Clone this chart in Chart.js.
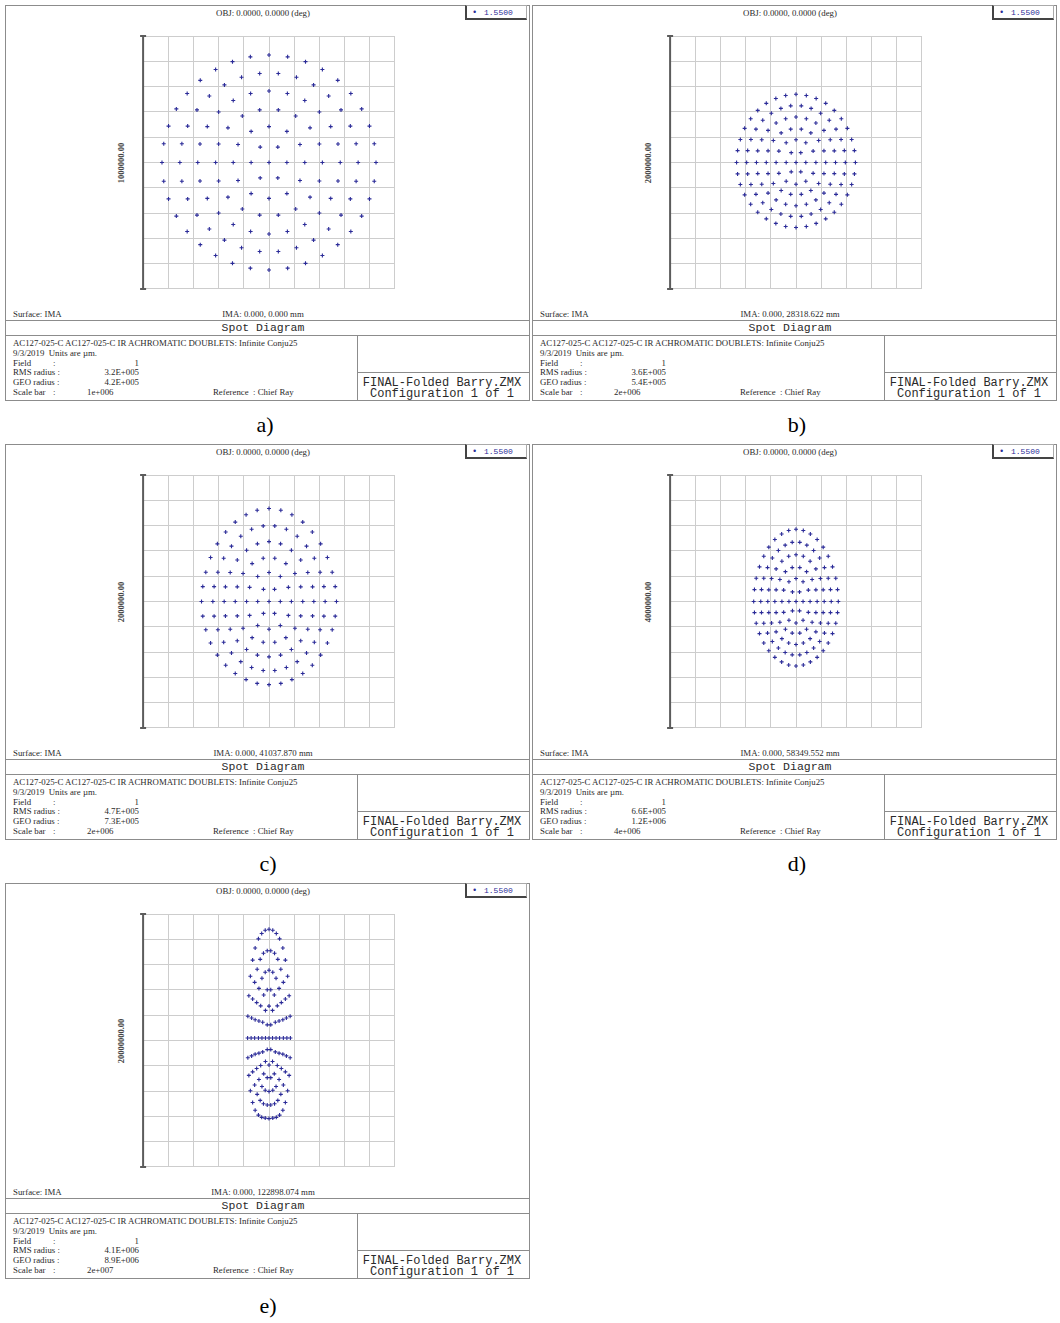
<!DOCTYPE html>
<html>
<head>
<meta charset="utf-8">
<title>Spot Diagrams</title>
<script src="https://cdn.jsdelivr.net/npm/chart.js@4.4.1/dist/chart.umd.min.js"></script>
<style>
  html, body { margin: 0; padding: 0; background: #fff; }
  body { position: relative; width: 1060px; height: 1323px; overflow: hidden;
         font-family: "Liberation Serif", "Times New Roman", serif; color: #222; }
  .panel { position: absolute; width: 525px; height: 396px; }
  .frame { position: absolute; left: 0; top: 0; width: 525px; height: 396px;
           box-sizing: border-box; border: 1.5px solid #8c8c8c; }
  .t { position: absolute; white-space: pre; line-height: 1; font-size: 8.8px; color: #2a2a2a; }
  .mono { font-family: "Liberation Mono", "Courier New", monospace; }
  .hl { position: absolute; height: 0; border-top: 1.5px solid #8c8c8c; }
  .vl { position: absolute; width: 0; border-left: 1.5px solid #8c8c8c; }
  .legend { position: absolute; top: 0; width: 62px; height: 15px; box-sizing: border-box;
            border-top: 1px solid #aaa; border-right: 1px solid #aaa;
            border-left: 2px solid #444; border-bottom: 2px solid #444; }
  canvas { position: absolute; }
  .lab { position: absolute; font-size: 22px; transform: translate(-50%, -50%); color: #000; }
</style>
</head>
<body>
<script>
// spot positions, in grid divisions (1 division = scale bar / 10)
// each row: [y, [x, x, ...]]
const spotsA = [
  [4.25, [0]],
  [4.18, [-0.74, 0.74]],
  [3.99, [-1.45, 1.45]],
  [3.68, [-2.12, 2.12]],
  [3.52, [-0.37, 0.37]],
  [3.37, [-1.09, 1.09]],
  [3.25, [-2.73, 2.73]],
  [3.07, [-1.77, 1.77]],
  [2.83, [0]],
  [2.73, [-3.25, -0.73, 0.73, 3.25]],
  [2.63, [-2.37, 2.37]],
  [2.45, [-1.42, 1.42]],
  [2.12, [-3.68, 3.68]],
  [2.08, [-2.86, -0.37, 0.37, 2.86]],
  [2.00, [-2.00, 2.00]],
  [1.84, [-1.06, 1.06]],
  [1.44, [-3.99, -3.23, 3.23, 3.99]],
  [1.42, [-2.45, 0, 2.45]],
  [1.37, [-1.63, 1.63]],
  [1.23, [-0.71, 0.71]],
  [0.74, [-4.18, -3.46, 3.46, 4.18]],
  [0.73, [-2.74, -2.00, 2.00, 2.74]],
  [0.71, [-1.23, 1.23]],
  [0.61, [-0.35, 0.35]],
  [0, [-4.25, -3.54, -2.83, -2.12, -1.42, -0.71, 0, 0.71, 1.42, 2.12, 2.83, 3.54, 4.25]],
  [-0.61, [-0.35, 0.35]],
  [-0.71, [-1.23, 1.23]],
  [-0.73, [-2.74, -2.00, 2.00, 2.74]],
  [-0.74, [-4.18, -3.46, 3.46, 4.18]],
  [-1.23, [-0.71, 0.71]],
  [-1.37, [-1.63, 1.63]],
  [-1.42, [-2.45, 0, 2.45]],
  [-1.44, [-3.99, -3.23, 3.23, 3.99]],
  [-1.84, [-1.06, 1.06]],
  [-2.00, [-2.00, 2.00]],
  [-2.08, [-2.86, -0.37, 0.37, 2.86]],
  [-2.12, [-3.68, 3.68]],
  [-2.45, [-1.42, 1.42]],
  [-2.63, [-2.37, 2.37]],
  [-2.73, [-3.25, -0.73, 0.73, 3.25]],
  [-2.83, [0]],
  [-3.07, [-1.77, 1.77]],
  [-3.25, [-2.73, 2.73]],
  [-3.37, [-1.09, 1.09]],
  [-3.52, [-0.37, 0.37]],
  [-3.68, [-2.12, 2.12]],
  [-3.99, [-1.45, 1.45]],
  [-4.18, [-0.74, 0.74]],
  [-4.25, [0]]
];

const spotsB = [
  [2.70, [0]],
  [2.65, [-0.41, 0.41]],
  [2.53, [-0.80, 0.80]],
  [2.34, [-1.18, 1.18]],
  [2.24, [-0.21, 0.21]],
  [2.14, [-0.60, 0.60]],
  [2.06, [-1.52, 1.52]],
  [1.95, [-0.98, 0.98]],
  [1.80, [0]],
  [1.73, [-1.80, -0.41, 0.41, 1.80]],
  [1.67, [-1.32, 1.32]],
  [1.56, [-0.79, 0.79]],
  [1.35, [-2.04, 2.04]],
  [1.32, [-1.59, -0.21, 0.21, 1.59]],
  [1.27, [-1.11, 1.11]],
  [1.17, [-0.59, 0.59]],
  [0.91, [-2.21, -1.79, 1.79, 2.21]],
  [0.90, [-1.36, 0, 1.36]],
  [0.87, [-0.90, 0.90]],
  [0.78, [-0.39, 0.39]],
  [0.47, [-2.32, -1.92, 1.92, 2.32]],
  [0.46, [-1.52, -1.11, 1.11, 1.52]],
  [0.45, [-0.68, 0.68]],
  [0.39, [-0.19, 0.19]],
  [0, [-2.36, -1.96, -1.57, -1.18, -0.79, -0.39, 0, 0.39, 0.79, 1.18, 1.57, 1.96, 2.36]],
  [-0.37, [-0.19, 0.19]],
  [-0.43, [-0.68, 0.68]],
  [-0.44, [-1.52, -1.11, 1.11, 1.52]],
  [-0.45, [-2.32, -1.92, 1.92, 2.32]],
  [-0.74, [-0.39, 0.39]],
  [-0.83, [-0.90, 0.90]],
  [-0.86, [-1.36, 0, 1.36]],
  [-0.87, [-2.21, -1.79, 1.79, 2.21]],
  [-1.11, [-0.59, 0.59]],
  [-1.21, [-1.11, 1.11]],
  [-1.26, [-1.59, -0.21, 0.21, 1.59]],
  [-1.28, [-2.04, 2.04]],
  [-1.48, [-0.79, 0.79]],
  [-1.59, [-1.32, 1.32]],
  [-1.65, [-1.80, -0.41, 0.41, 1.80]],
  [-1.71, [0]],
  [-1.86, [-0.98, 0.98]],
  [-1.97, [-1.52, 1.52]],
  [-2.04, [-0.60, 0.60]],
  [-2.13, [-0.21, 0.21]],
  [-2.23, [-1.18, 1.18]],
  [-2.41, [-0.80, 0.80]],
  [-2.53, [-0.41, 0.41]],
  [-2.57, [0]]
];

const spotsC = [
  [3.68, [0]],
  [3.61, [-0.47, 0.47]],
  [3.43, [-0.91, 0.91]],
  [3.14, [-1.34, 1.34]],
  [2.99, [-0.23, 0.23]],
  [2.86, [-0.69, 0.69]],
  [2.75, [-1.72, 1.72]],
  [2.58, [-1.12, 1.12]],
  [2.37, [0]],
  [2.28, [-2.05, -0.46, 0.46, 2.05]],
  [2.19, [-1.49, 1.49]],
  [2.03, [-0.89, 0.89]],
  [1.74, [-2.32, 2.32]],
  [1.71, [-1.80, -0.23, 0.23, 1.80]],
  [1.64, [-1.26, 1.26]],
  [1.50, [-0.67, 0.67]],
  [1.16, [-2.51, -2.03, 2.03, 2.51]],
  [1.15, [-1.54, 0, 1.54]],
  [1.11, [-1.03, 1.03]],
  [0.99, [-0.45, 0.45]],
  [0.59, [-2.63, -2.18, 2.18, 2.63]],
  [0.58, [-1.73, -1.26, 1.26, 1.73]],
  [0.56, [-0.77, 0.77]],
  [0.48, [-0.22, 0.22]],
  [0, [-2.68, -2.23, -1.78, -1.34, -0.89, -0.45, 0, 0.45, 0.89, 1.34, 1.78, 2.23, 2.68]],
  [-0.47, [-0.22, 0.22]],
  [-0.55, [-0.77, 0.77]],
  [-0.57, [-1.73, -1.26, 1.26, 1.73]],
  [-0.58, [-2.63, -2.18, 2.18, 2.63]],
  [-0.95, [-0.45, 0.45]],
  [-1.06, [-1.03, 1.03]],
  [-1.10, [-1.54, 0, 1.54]],
  [-1.12, [-2.51, -2.03, 2.03, 2.51]],
  [-1.43, [-0.67, 0.67]],
  [-1.55, [-1.26, 1.26]],
  [-1.61, [-1.80, -0.23, 0.23, 1.80]],
  [-1.64, [-2.32, 2.32]],
  [-1.90, [-0.89, 0.89]],
  [-2.04, [-1.49, 1.49]],
  [-2.12, [-2.05, -0.46, 0.46, 2.05]],
  [-2.19, [0]],
  [-2.38, [-1.12, 1.12]],
  [-2.52, [-1.72, 1.72]],
  [-2.61, [-0.69, 0.69]],
  [-2.73, [-0.23, 0.23]],
  [-2.85, [-1.34, 1.34]],
  [-3.09, [-0.91, 0.91]],
  [-3.24, [-0.47, 0.47]],
  [-3.29, [0]]
];

const spotsD = [
  [2.86, [0]],
  [2.81, [-0.29, 0.29]],
  [2.67, [-0.57, 0.57]],
  [2.45, [-0.84, 0.84]],
  [2.34, [-0.15, 0.15]],
  [2.23, [-0.43, 0.43]],
  [2.15, [-1.08, 1.08]],
  [2.02, [-0.70, 0.70]],
  [1.85, [0]],
  [1.79, [-1.28, -0.29, 0.29, 1.28]],
  [1.72, [-0.94, 0.94]],
  [1.59, [-0.56, 0.56]],
  [1.37, [-1.45, 1.45]],
  [1.34, [-1.13, -0.15, 0.15, 1.13]],
  [1.29, [-0.79, 0.79]],
  [1.18, [-0.42, 0.42]],
  [0.92, [-1.58, -1.28, 1.28, 1.58]],
  [0.91, [-0.97, 0, 0.97]],
  [0.87, [-0.64, 0.64]],
  [0.78, [-0.28, 0.28]],
  [0.47, [-1.65, -1.37, 1.37, 1.65]],
  [0.46, [-1.08, -0.79, 0.79, 1.08]],
  [0.45, [-0.49, 0.49]],
  [0.38, [-0.14, 0.14]],
  [0, [-1.68, -1.40, -1.12, -0.84, -0.56, -0.28, 0, 0.28, 0.56, 0.84, 1.12, 1.40, 1.68]],
  [-0.37, [-0.14, 0.14]],
  [-0.43, [-0.49, 0.49]],
  [-0.44, [-1.08, -0.79, 0.79, 1.08]],
  [-0.44, [-1.65, -1.37, 1.37, 1.65]],
  [-0.74, [-0.28, 0.28]],
  [-0.82, [-0.64, 0.64]],
  [-0.85, [-0.97, 0, 0.97]],
  [-0.86, [-1.58, -1.28, 1.28, 1.58]],
  [-1.10, [-0.42, 0.42]],
  [-1.20, [-0.79, 0.79]],
  [-1.25, [-1.13, -0.15, 0.15, 1.13]],
  [-1.27, [-1.45, 1.45]],
  [-1.47, [-0.56, 0.56]],
  [-1.58, [-0.94, 0.94]],
  [-1.64, [-1.28, -0.29, 0.29, 1.28]],
  [-1.70, [0]],
  [-1.84, [-0.70, 0.70]],
  [-1.95, [-1.08, 1.08]],
  [-2.02, [-0.43, 0.43]],
  [-2.11, [-0.15, 0.15]],
  [-2.21, [-0.84, 0.84]],
  [-2.39, [-0.57, 0.57]],
  [-2.51, [-0.29, 0.29]],
  [-2.55, [0]]
];

const spotsE = [
  [4.40, [0]],
  [4.36, [-0.15, 0.15]],
  [4.23, [-0.29, 0.29]],
  [4.02, [-0.42, 0.42]],
  [3.66, [-0.55, 0.55]],
  [3.55, [-0.07, 0.07]],
  [3.45, [-0.22, 0.22]],
  [3.21, [-0.35, 0.35]],
  [3.18, [-0.65, 0.65]],
  [2.82, [-0.47, 0.47]],
  [2.78, [0]],
  [2.70, [-0.15, 0.15]],
  [2.54, [-0.74, 0.74]],
  [2.46, [-0.28, 0.28]],
  [2.30, [-0.57, 0.57]],
  [2.06, [-0.40, 0.40]],
  [2.01, [-0.07, 0.07]],
  [1.80, [-0.21, 0.21]],
  [1.77, [-0.80, 0.80]],
  [1.64, [-0.65, 0.65]],
  [1.50, [-0.49, 0.49]],
  [1.37, [-0.33, 0.33]],
  [1.36, [0]],
  [1.19, [-0.14, 0.14]],
  [0.96, [-0.84, 0.84]],
  [0.89, [-0.69, 0.69]],
  [0.82, [-0.55, 0.55]],
  [0.77, [-0.40, 0.40]],
  [0.72, [-0.25, 0.25]],
  [0.62, [-0.07, 0.07]],
  [0.10, [-0.85, -0.71, -0.57, -0.42, -0.28, -0.14, 0, 0.14, 0.28, 0.42, 0.57, 0.71, 0.85]],
  [-0.36, [-0.07, 0.07]],
  [-0.45, [-0.25, 0.25]],
  [-0.50, [-0.40, 0.40]],
  [-0.54, [-0.55, 0.55]],
  [-0.61, [-0.69, 0.69]],
  [-0.68, [-0.84, 0.84]],
  [-0.83, [-0.14, 0.14]],
  [-0.97, [0]],
  [-0.99, [-0.33, 0.33]],
  [-1.11, [-0.49, 0.49]],
  [-1.24, [-0.65, 0.65]],
  [-1.32, [-0.21, 0.21]],
  [-1.38, [-0.80, 0.80]],
  [-1.47, [-0.07, 0.07]],
  [-1.54, [-0.40, 0.40]],
  [-1.76, [-0.57, 0.57]],
  [-1.82, [-0.28, 0.28]],
  [-1.97, [-0.15, 0.15]],
  [-1.99, [-0.74, 0.74]],
  [-2.02, [0]],
  [-2.13, [-0.47, 0.47]],
  [-2.37, [-0.35, 0.35]],
  [-2.45, [-0.65, 0.65]],
  [-2.50, [-0.22, 0.22]],
  [-2.55, [-0.07, 0.07]],
  [-2.76, [-0.55, 0.55]],
  [-2.95, [-0.42, 0.42]],
  [-3.04, [-0.29, 0.29]],
  [-3.07, [-0.15, 0.15]],
  [-3.09, [0]]
];

// per-panel texts
const panelLetters = ['a)', 'b)', 'c)', 'd)', 'e)'];
const imaText = ['IMA: 0.000, 0.000 mm', 'IMA: 0.000, 28318.622 mm', 'IMA: 0.000, 41037.870 mm',
                 'IMA: 0.000, 58349.552 mm', 'IMA: 0.000, 122898.074 mm'];
const rmsRadius = ['3.2E+005', '3.6E+005', '4.7E+005', '6.6E+005', '4.1E+006'];
const geoRadius = ['4.2E+005', '5.4E+005', '7.3E+005', '1.2E+006', '8.9E+006'];
const scaleBar = ['1e+006', '2e+006', '2e+006', '4e+006', '2e+007'];
const scaleLabel = ['1000000.00', '2000000.00', '2000000.00', '4000000.00', '20000000.00'];
const spots = [spotsA, spotsB, spotsC, spotsD, spotsE];

// page placement
const panelX = [5, 532, 5, 532, 5];
const panelY = [5, 5, 444, 444, 883];
const letterX = [265, 797, 268, 797, 268];
const letterY = [425, 425, 864, 864, 1306];

const SPOT_COLOR = '#2b2b98';
const GRID_MIN = -5, GRID_MAX = 5;
const PAD = 5;

function addText(parent, str, x, y, cls, align) {
  const d = document.createElement('div');
  d.className = 't' + (cls ? ' ' + cls : '');
  d.textContent = str;
  d.style.left = x + 'px';
  d.style.top = y + 'px';
  const tx = align === 'c' ? '-50%' : align === 'r' ? '-100%' : '0';
  d.style.transform = 'translate(' + tx + ', -50%)';
  parent.appendChild(d);
  return d;
}

function addBox(parent, cls, left, top, w, h) {
  const d = document.createElement('div');
  d.className = cls;
  d.style.left = left + 'px';
  d.style.top = top + 'px';
  if (w != null) d.style.width = w + 'px';
  if (h != null) d.style.height = h + 'px';
  parent.appendChild(d);
  return d;
}

// dark scale bar along the left edge of the grid
const scaleBarPlugin = {
  id: 'scaleBar',
  afterDraw(chart) {
    const { ctx, scales: { x, y } } = chart;
    const px = x.getPixelForValue(GRID_MIN);
    const top = y.getPixelForValue(GRID_MAX);
    const bottom = y.getPixelForValue(GRID_MIN);
    ctx.save();
    ctx.strokeStyle = '#5c5c5c';
    ctx.lineWidth = 2;
    ctx.beginPath();
    ctx.moveTo(px, top); ctx.lineTo(px, bottom);
    ctx.moveTo(px - 3, top); ctx.lineTo(px + 3, top);
    ctx.moveTo(px - 3, bottom); ctx.lineTo(px + 3, bottom);
    ctx.stroke();
    ctx.restore();
  }
};

function axis() {
  return {
    type: 'linear', min: GRID_MIN, max: GRID_MAX,
    ticks: { display: false, stepSize: 1 },
    grid: { color: '#cdcdcd', lineWidth: 1, drawTicks: false },
    border: { display: false }
  };
}

const infoY = [338, 347.8, 357.6, 367.4, 377.2, 387];

spots.forEach((rows, i) => {
  const p = document.createElement('div');
  p.className = 'panel';
  p.style.left = panelX[i] + 'px';
  p.style.top = panelY[i] + 'px';
  document.body.appendChild(p);

  addBox(p, 'frame', 0, 0);

  // header
  addText(p, 'OBJ: 0.0000, 0.0000 (deg)', 258, 8, '', 'c');
  addBox(p, 'legend', 460, 0);
  addText(p, '•', 467, 7.5, 'mono', 'l').style.color = SPOT_COLOR;
  const wl = addText(p, '1.5500', 479, 7.5, 'mono', 'l');
  wl.style.color = SPOT_COLOR;
  wl.style.fontSize = '8px';

  // plot area
  const cv = document.createElement('canvas');
  cv.width = 252 + 2 * PAD;
  cv.height = 253 + 2 * PAD;
  cv.style.left = (138 - PAD) + 'px';
  cv.style.top = (31 - PAD) + 'px';
  p.appendChild(cv);

  const sl = addText(p, scaleLabel[i], 116, 158, '', 'c');
  sl.style.fontSize = '8.5px';
  sl.style.fontWeight = 'bold';
  sl.style.color = '#444';
  sl.style.transform = 'translate(-50%, -50%) rotate(-90deg)';

  new Chart(cv, {
    type: 'scatter',
    data: {
      datasets: [{
        data: rows.flatMap(([y, xs]) => xs.map(x => ({ x, y }))),
        pointStyle: 'cross',
        pointRadius: 2,
        borderWidth: 1.1,
        borderColor: SPOT_COLOR,
        backgroundColor: SPOT_COLOR
      }]
    },
    options: {
      responsive: false,
      animation: false,
      devicePixelRatio: 1,
      layout: { padding: PAD },
      plugins: { legend: { display: false }, tooltip: { enabled: false } },
      scales: { x: axis(), y: axis() }
    },
    plugins: [scaleBarPlugin]
  });

  // footer
  addText(p, 'Surface: IMA', 8, 308.5, '', 'l');
  addText(p, imaText[i], 258, 308.5, '', 'c');
  addBox(p, 'hl', 0, 315, 525);
  const title = addText(p, 'Spot Diagram', 258, 322.5, 'mono', 'c');
  title.style.fontSize = '11.5px';
  addBox(p, 'hl', 0, 330, 525);
  addBox(p, 'vl', 352, 330, null, 66);
  addBox(p, 'hl', 352, 367, 173);

  addText(p, 'AC127-025-C AC127-025-C IR ACHROMATIC DOUBLETS: Infinite Conju25', 8, infoY[0], '', 'l');
  addText(p, '9/3/2019  Units are µm.', 8, infoY[1], '', 'l');
  addText(p, 'Field', 8, infoY[2], '', 'l');
  addText(p, ':', 48, infoY[2], '', 'l');
  addText(p, '1', 134, infoY[2], '', 'r');
  addText(p, 'RMS radius :', 8, infoY[3], '', 'l');
  addText(p, rmsRadius[i], 134, infoY[3], '', 'r');
  addText(p, 'GEO radius :', 8, infoY[4], '', 'l');
  addText(p, geoRadius[i], 134, infoY[4], '', 'r');
  addText(p, 'Scale bar', 8, infoY[5], '', 'l');
  addText(p, ':', 48, infoY[5], '', 'l');
  addText(p, scaleBar[i], 82, infoY[5], '', 'l');
  addText(p, 'Reference  : Chief Ray', 208, infoY[5], '', 'l');

  const f1 = addText(p, 'FINAL-Folded Barry.ZMX', 437, 378, 'mono', 'c');
  f1.style.fontSize = '12px';
  const f2 = addText(p, 'Configuration 1 of 1', 437, 389, 'mono', 'c');
  f2.style.fontSize = '12px';

  const lab = document.createElement('div');
  lab.className = 'lab';
  lab.textContent = panelLetters[i];
  lab.style.left = letterX[i] + 'px';
  lab.style.top = letterY[i] + 'px';
  document.body.appendChild(lab);
});
</script>
</body>
</html>
